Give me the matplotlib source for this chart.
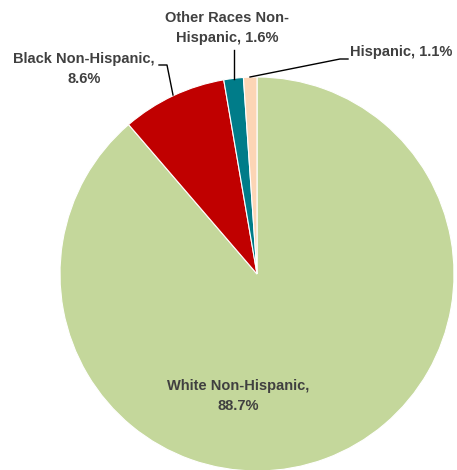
import matplotlib
matplotlib.use("Agg")
import matplotlib.pyplot as plt

categories = ["White Non-Hispanic", "Black Non-Hispanic", "Other Races Non-Hispanic", "Hispanic"]
values = [88.7, 8.6, 1.6, 1.1]
colors = ["#C4D79B", "#C00000", "#007C89", "#FCD5B5"]

W, H = 457, 470
fig = plt.figure(figsize=(W / 100, H / 100), dpi=100)
ax = fig.add_axes([0, 0, 1, 1])

cx, cy, r = 257, H - 274, 197
ax.pie(values, colors=colors, startangle=90, counterclock=False,
       center=(cx, cy), radius=r, frame=True,
       wedgeprops=dict(edgecolor="white", linewidth=0.8))
ax.set_xlim(0, W)
ax.set_ylim(0, H)
ax.set_aspect("equal")
ax.axis("off")

font = dict(family=["Liberation Sans", "DejaVu Sans"], fontweight="bold",
            fontsize=10.5, color="#404040", linespacing=1.5)

def Y(y):
    return H - y

ax.text(84, Y(69), f"{categories[1]},\n{values[1]}%", ha="center", va="center", **font)
ax.text(227, Y(28), "Other Races Non-\nHispanic, " + f"{values[2]}%", ha="center", va="center", **font)
ax.text(350, Y(52), f"{categories[3]}, {values[3]}%", ha="left", va="center", **font)
ax.text(238, Y(396), f"{categories[0]},\n{values[0]}%", ha="center", va="center", **font)

lk = dict(color="black", linewidth=1.0)
ax.plot([159, 167, 173], [Y(65), Y(65), Y(95)], **lk)
ax.plot([234, 234], [Y(50), Y(79)], **lk)
ax.plot([250, 340, 348], [Y(77), Y(59), Y(59)], **lk)

fig.savefig("out.png", dpi=100)
